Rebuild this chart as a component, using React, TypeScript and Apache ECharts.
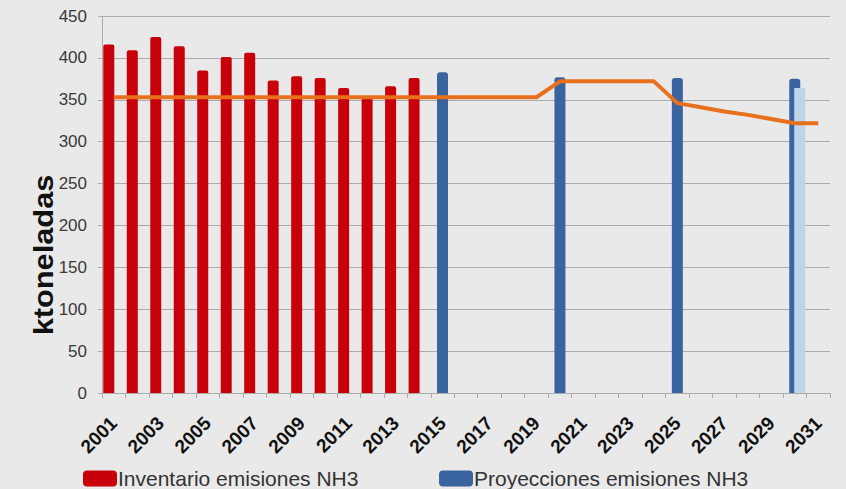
import React, { useEffect, useRef } from "react";
import * as echarts from "echarts";

const years = [
  "2001", "2002", "2003", "2004", "2005", "2006", "2007", "2008", "2009", "2010",
  "2011", "2012", "2013", "2014", "2015", "2016", "2017", "2018", "2019", "2020",
  "2021", "2022", "2023", "2024", "2025", "2026", "2027", "2028", "2029", "2030", "2031",
];

// Inventario emisiones NH3 (2001-2014)
const inventarioYears = [
  "2001", "2002", "2003", "2004", "2005", "2006", "2007",
  "2008", "2009", "2010", "2011", "2012", "2013", "2014",
];
const inventarioValues = [416, 409, 425, 414, 385, 401, 406, 373, 378, 376, 364, 352, 366, 376];

// Proyecciones emisiones NH3
const proyeccionYears = ["2015", "2020", "2025", "2030"];
const proyeccionValues = [383, 377, 376, 375];

// Escenario adicional (barra azul clara)
const escenarioYears = ["2030"];
const escenarioValues = [364];

// Techo de emisiones (línea naranja)
const techoValues = [
  353, 353, 353, 353, 353, 353, 353, 353, 353, 353,
  353, 353, 353, 353, 353, 353, 353, 353, 353, 372,
  372, 372, 372, 372, 346, 341, 336, 332, 327, 322, 322,
];

const yTicks = { min: 0, max: 450, interval: 50 };

const toSeries = (ys: string[], vs: number[]) =>
  years.map((y) => {
    const i = ys.indexOf(y);
    return i >= 0 ? vs[i] : null;
  });

const FONT = "'Liberation Sans', Arial, sans-serif";

export default function App() {
  const ref = useRef<HTMLDivElement>(null);
  useEffect(() => {
    if (!ref.current) return;
    const chart = echarts.init(ref.current, undefined, { renderer: "svg" });
    const gridColor = "#ababab";
    chart.setOption({
      animation: false,
      backgroundColor: "#e9e9e9",
      textStyle: { fontFamily: FONT },
      grid: { left: 102, right: 16, top: 16, bottom: 96, containLabel: false },
      legend: [
        {
          data: ["Inventario emisiones NH3"],
          left: 83,
          top: 468,
          padding: 0,
          itemWidth: 34,
          itemHeight: 16,
          icon: "roundRect",
          textStyle: { fontSize: 21, color: "#333", fontFamily: FONT, padding: [0, 0, 0, -4] },
        },
        {
          data: ["Proyecciones emisiones NH3"],
          left: 439,
          top: 468,
          padding: 0,
          itemWidth: 34,
          itemHeight: 16,
          icon: "roundRect",
          textStyle: { fontSize: 21, color: "#333", fontFamily: FONT, padding: [0, 0, 0, -4] },
        },
      ],
      graphic: [
        {
          type: "text",
          x: 44,
          y: 255,
          rotation: Math.PI / 2,
          scaleX: 1.14,
          style: {
            text: "ktoneladas",
            font: `bold 27px ${FONT}`,
            fill: "#111",
            align: "center",
            verticalAlign: "middle",
          },
        },
      ],
      xAxis: {
        type: "category",
        data: years,
        boundaryGap: true,
        axisLine: { lineStyle: { color: gridColor } },
        axisTick: { show: true, interval: 0, length: 5, lineStyle: { color: gridColor } },
        axisLabel: {
          interval: 1,
          rotate: 45,
          fontSize: 19,
          fontWeight: "bold",
          color: "#111",
          margin: 27,
        },
      },
      yAxis: {
        type: "value",
        min: yTicks.min,
        max: yTicks.max,
        interval: yTicks.interval,
        axisLine: { show: true, lineStyle: { color: gridColor } },
        axisTick: { show: true, length: 4, lineStyle: { color: gridColor } },
        splitLine: { lineStyle: { color: gridColor, width: 1 } },
        axisLabel: { fontSize: 17, color: "#3a3a3a", margin: 15 },
      },
      series: [
        {
          name: "Inventario emisiones NH3",
          type: "bar",
          data: toSeries(inventarioYears, inventarioValues),
          barWidth: 11,
          barGap: "-55%",
          itemStyle: { color: "#c8000a", borderRadius: [2, 2, 0, 0] },
        },
        {
          name: "Proyecciones emisiones NH3",
          type: "bar",
          data: toSeries(proyeccionYears, proyeccionValues),
          barWidth: 11,
          barGap: "-55%",
          itemStyle: { color: "#3a64a0", borderRadius: [3, 3, 0, 0] },
        },
        {
          name: "Escenario",
          type: "bar",
          data: toSeries(escenarioYears, escenarioValues),
          barWidth: 11,
          barGap: "-55%",
          itemStyle: { color: "#bfd3ea" },
        },
        {
          name: "Techo",
          type: "line",
          data: techoValues,
          symbol: "none",
          lineStyle: { color: "#e8701c", width: 4 },
          z: 5,
        },
      ],
    });
    return () => chart.dispose();
  }, []);
  return (
    <div
      ref={ref}
      style={{ position: "fixed", left: 0, top: 0, width: 846, height: 489 }}
    />
  );
}
